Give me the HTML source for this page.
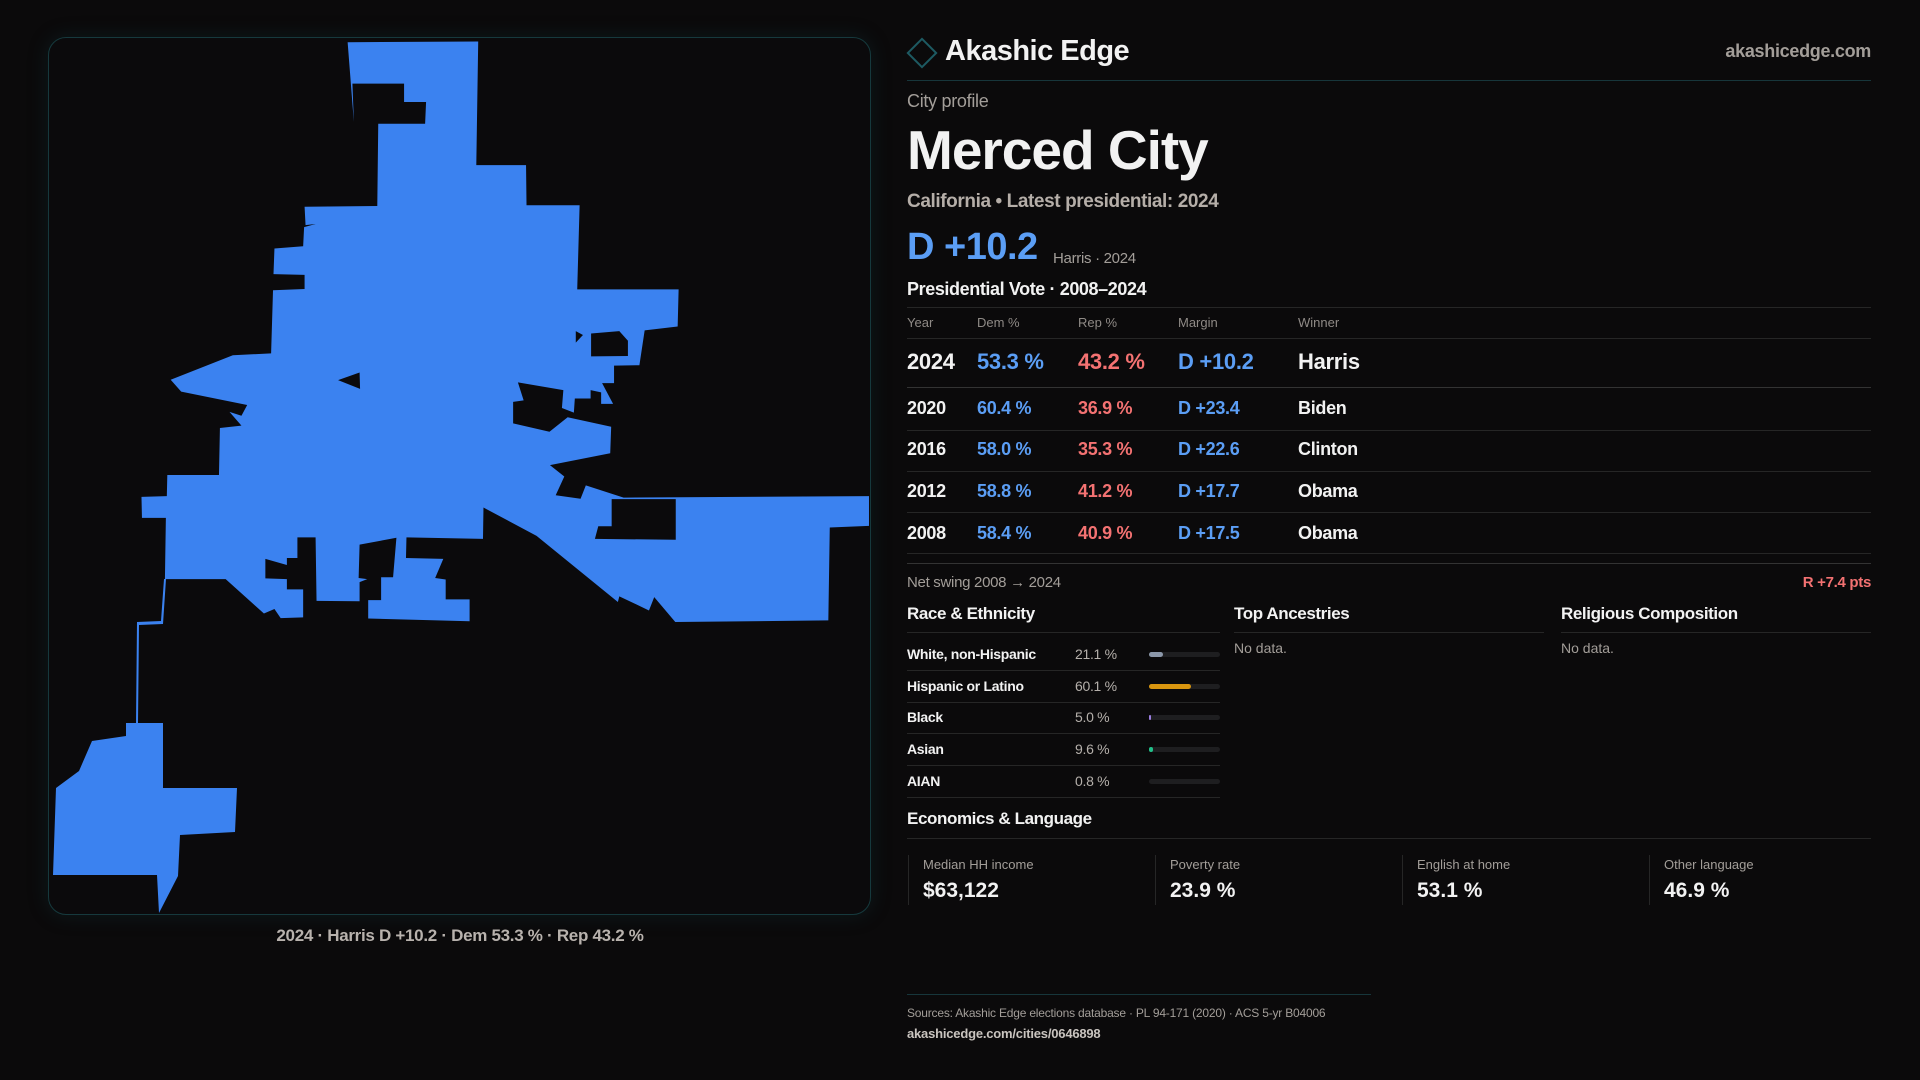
<!DOCTYPE html>
<html><head><meta charset="utf-8">
<style>
*{margin:0;padding:0;box-sizing:border-box}
body{width:1920px;height:1080px;background:#0b0a0b;font-family:"Liberation Sans",sans-serif;color:#f2f2f2;position:relative;overflow:hidden}
.a{position:absolute;white-space:nowrap}
.hl{position:absolute;height:1px;background:#262626}
.g{color:#a39e99}
.b{color:#5b9ef5}
.r{color:#f47272}
.th{font-size:13px;color:#8f8a86;top:315px}
.row{font-size:18px;font-weight:bold;letter-spacing:-0.3px}
.rc{font-size:14px;font-weight:bold;letter-spacing:-0.3px}
.rv{font-size:14px;color:#b5b0ab;letter-spacing:-0.3px}
.bar{position:absolute;left:1149px;width:71px;height:5px;border-radius:3px;background:#1e1e20}
.bar i{display:block;height:5px;border-radius:3px}
.sl{font-size:13px;color:#a39e99;top:857px}
.sv{font-size:21px;font-weight:bold;top:879px}
.sb{position:absolute;top:855px;height:50px;width:1px;background:#262626}
</style></head><body>
<div style="position:absolute;left:48px;top:37px;width:823px;height:878px;border:1px solid #16393d;border-radius:18px;background:#0b0a0c;box-shadow:0 0 20px rgba(20,70,80,.25)"></div>
<svg width="1920" height="1080" style="position:absolute;left:0;top:0">
<g transform="translate(130,30) scale(0.47831,0.38265)">
<polygon fill="#3b82f0" points="455,32 728,30 724,353 828,353 829,458 940,458 935,678 1147,678 1145,775 1076,785 1065,876 1012,877 1012,923 987,923 1010,977 985,977 985,947 963,941 963,963 930,963 928,1000 903,988 906,941 811,921 823,968 801,972 801,1028 877,1050 915,1012 1006,1037 1004,1106 878,1137 908,1167 890,1216 942,1225 953,1190 1032,1222 1545,1218 1545,1296 1463,1300 1460,1543 1140,1547 1096,1482 1085,1517 1023,1480 1020,1495 850,1322 739,1248 738,1330 578,1326 577,1380 655,1382 638,1432 660,1436 660,1488 710,1488 710,1545 498,1538 498,1490 525,1490 525,1430 550,1430 557,1327 480,1345 478,1432 496,1435 480,1443 480,1493 390,1492 388,1326 350,1326 350,1380 328,1380 328,1398 283,1382 283,1433 328,1435 328,1462 362,1462 362,1535 315,1537 302,1513 280,1525 200,1435 73,1435 75,1275 25,1275 24,1220 77,1218 78,1163 186,1163 188,1040 233,1034 208,998 233,1008 245,980 107,945 85,914 215,850 295,845 299,680 365,677 365,640 300,638 302,571 362,565 364,515 388,507 367,510 365,462 517,460 519,245 617,245 619,188 573,188 573,140 465,140 468,240"/>
<g fill="#0b0a0c">
<polygon points="435,915 480,895 481,938"/>
<polygon points="932,787 947,797 932,817"/>
<polygon points="964,793 1023,787 1041,812 1041,852 964,853"/>
<polygon points="1007,1226 1141,1226 1141,1332 972,1330 979,1297 1007,1297"/>
</g></g>
<polygon fill="#3b82f0" points="164,579 166,579 163,624 139,625 138,723 136,723 137,622 161,621"/>
<polygon fill="#3b82f0" points="126,723 163,723 163,788 237,788 235,832 180,835 178,876 159,913 157,875 53,875 56,788 79,771 92,741 126,736"/>
<rect x="912" y="43" width="20" height="20" transform="rotate(45 922 53)" fill="none" stroke="#1d5a62" stroke-width="2"/>
</svg>
<div class="a g" style="left:0;width:920px;text-align:center;top:926px;font-size:17px;font-weight:bold;letter-spacing:-0.3px;color:#b8b2ad">2024 · Harris D +10.2 · Dem 53.3 % · Rep 43.2 %</div>

<div class="a" style="left:945px;top:35px;font-size:29px;font-weight:bold;letter-spacing:-0.5px">Akashic Edge</div>
<div class="a g" style="right:49px;top:41px;font-size:18px;font-weight:bold;letter-spacing:-0.3px">akashicedge.com</div>
<div class="hl" style="left:907px;width:964px;top:80px;background:#17363b"></div>
<div class="a g" style="left:907px;top:91px;font-size:18px;letter-spacing:-0.3px">City profile</div>
<div class="a" style="left:907px;top:118px;font-size:55px;font-weight:bold;letter-spacing:-1px">Merced City</div>
<div class="a g" style="left:907px;top:191px;font-size:19px;font-weight:bold;letter-spacing:-0.4px;color:#b5aea8">California • Latest presidential: 2024</div>
<div class="a b" style="left:907px;top:226px;font-size:38px;font-weight:bold;letter-spacing:-0.5px">D +10.2</div>
<div class="a g" style="left:1053px;top:250px;font-size:15px;letter-spacing:-0.3px">Harris · 2024</div>
<div class="a" style="left:907px;top:279px;font-size:18px;font-weight:bold;letter-spacing:-0.4px">Presidential Vote · 2008–2024</div>
<div class="hl" style="left:907px;width:964px;top:307px"></div>
<div class="a th" style="left:907px">Year</div><div class="a th" style="left:977px">Dem %</div><div class="a th" style="left:1078px">Rep %</div><div class="a th" style="left:1178px">Margin</div><div class="a th" style="left:1298px">Winner</div>
<div class="hl" style="left:907px;width:964px;top:338px"></div>
<div class="a row" style="left:907px;top:349px;font-size:22px">2024</div><div class="a row b" style="left:977px;top:349px;font-size:22px">53.3 %</div><div class="a row r" style="left:1078px;top:349px;font-size:22px">43.2 %</div><div class="a row b" style="left:1178px;top:349px;font-size:22px">D +10.2</div><div class="a row" style="left:1298px;top:349px;font-size:22px">Harris</div>
<div class="hl" style="left:907px;width:964px;top:387px;background:#333"></div>
<div class="a row" style="left:907px;top:398px">2020</div><div class="a row b" style="left:977px;top:398px">60.4 %</div><div class="a row r" style="left:1078px;top:398px">36.9 %</div><div class="a row b" style="left:1178px;top:398px">D +23.4</div><div class="a row" style="left:1298px;top:398px">Biden</div>
<div class="hl" style="left:907px;width:964px;top:430px"></div>
<div class="a row" style="left:907px;top:439px">2016</div><div class="a row b" style="left:977px;top:439px">58.0 %</div><div class="a row r" style="left:1078px;top:439px">35.3 %</div><div class="a row b" style="left:1178px;top:439px">D +22.6</div><div class="a row" style="left:1298px;top:439px">Clinton</div>
<div class="hl" style="left:907px;width:964px;top:471px"></div>
<div class="a row" style="left:907px;top:481px">2012</div><div class="a row b" style="left:977px;top:481px">58.8 %</div><div class="a row r" style="left:1078px;top:481px">41.2 %</div><div class="a row b" style="left:1178px;top:481px">D +17.7</div><div class="a row" style="left:1298px;top:481px">Obama</div>
<div class="hl" style="left:907px;width:964px;top:512px"></div>
<div class="a row" style="left:907px;top:523px">2008</div><div class="a row b" style="left:977px;top:523px">58.4 %</div><div class="a row r" style="left:1078px;top:523px">40.9 %</div><div class="a row b" style="left:1178px;top:523px">D +17.5</div><div class="a row" style="left:1298px;top:523px">Obama</div>
<div class="hl" style="left:907px;width:964px;top:553px"></div>
<div class="hl" style="left:907px;width:964px;top:563px;background:#333"></div>
<div class="a g" style="left:907px;top:574px;font-size:15px;letter-spacing:-0.3px">Net swing 2008 → 2024</div>
<div class="a r" style="right:49px;top:574px;font-size:15px;font-weight:bold;letter-spacing:-0.3px">R +7.4 pts</div>

<div class="a" style="left:907px;top:604px;font-size:17px;font-weight:bold;letter-spacing:-0.4px">Race &amp; Ethnicity</div>
<div class="a" style="left:1234px;top:604px;font-size:17px;font-weight:bold;letter-spacing:-0.4px">Top Ancestries</div>
<div class="a" style="left:1561px;top:604px;font-size:17px;font-weight:bold;letter-spacing:-0.4px">Religious Composition</div>
<div class="hl" style="left:907px;width:313px;top:632px"></div>
<div class="hl" style="left:1234px;width:310px;top:632px"></div>
<div class="hl" style="left:1561px;width:310px;top:632px"></div>
<div class="a g" style="left:1234px;top:640px;font-size:14px">No data.</div>
<div class="a g" style="left:1561px;top:640px;font-size:14px">No data.</div>

<div class="a rc" style="left:907px;top:646px">White, non-Hispanic</div><div class="a rv" style="left:1075px;top:646px">21.1 %</div><div class="bar" style="top:652px"><i style="width:14px;background:#8c98aa"></i></div>
<div class="hl" style="left:907px;width:313px;top:670px"></div>
<div class="a rc" style="left:907px;top:678px">Hispanic or Latino</div><div class="a rv" style="left:1075px;top:678px">60.1 %</div><div class="bar" style="top:684px"><i style="width:42px;background:#d9960f"></i></div>
<div class="hl" style="left:907px;width:313px;top:702px"></div>
<div class="a rc" style="left:907px;top:709px">Black</div><div class="a rv" style="left:1075px;top:709px">5.0 %</div><div class="bar" style="top:715px"><i style="width:2px;background:#9b7ee0"></i></div>
<div class="hl" style="left:907px;width:313px;top:733px"></div>
<div class="a rc" style="left:907px;top:741px">Asian</div><div class="a rv" style="left:1075px;top:741px">9.6 %</div><div class="bar" style="top:747px"><i style="width:4px;background:#22c08a"></i></div>
<div class="hl" style="left:907px;width:313px;top:765px"></div>
<div class="a rc" style="left:907px;top:773px">AIAN</div><div class="a rv" style="left:1075px;top:773px">0.8 %</div><div class="bar" style="top:779px"></div>
<div class="hl" style="left:907px;width:313px;top:797px"></div>

<div class="a" style="left:907px;top:809px;font-size:17px;font-weight:bold;letter-spacing:-0.4px">Economics &amp; Language</div>
<div class="hl" style="left:907px;width:964px;top:838px"></div>
<div class="sb" style="left:908px"></div><div class="sb" style="left:1155px"></div><div class="sb" style="left:1402px"></div><div class="sb" style="left:1649px"></div>
<div class="a sl" style="left:923px">Median HH income</div><div class="a sv" style="left:923px">$63,122</div>
<div class="a sl" style="left:1170px">Poverty rate</div><div class="a sv" style="left:1170px">23.9 %</div>
<div class="a sl" style="left:1417px">English at home</div><div class="a sv" style="left:1417px">53.1 %</div>
<div class="a sl" style="left:1664px">Other language</div><div class="a sv" style="left:1664px">46.9 %</div>

<div class="hl" style="left:907px;width:464px;top:994px;background:#17363b"></div>
<div class="a g" style="left:907px;top:1006px;font-size:12px;letter-spacing:-0.2px">Sources: Akashic Edge elections database · PL 94-171 (2020) · ACS 5-yr B04006</div>
<div class="a" style="left:907px;top:1026px;font-size:13px;font-weight:bold;color:#c9c4bf;letter-spacing:-0.2px">akashicedge.com/cities/0646898</div>
</body></html>
